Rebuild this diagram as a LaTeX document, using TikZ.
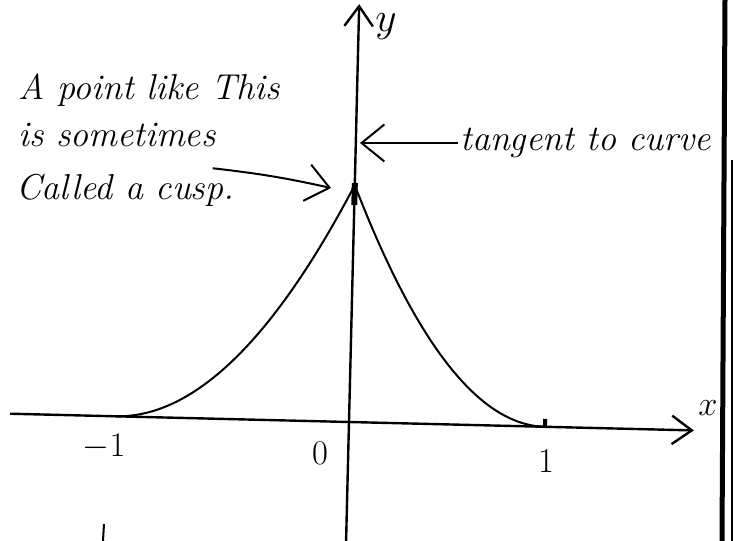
\documentclass[tikz,border=0pt]{standalone}
\usepackage{tikz}
\usetikzlibrary{arrows.meta,positioning}
\tikzset{
  ax/.style={-{Straight Barb[length=3.5mm,width=5mm]},line width=1.2pt},
  ar/.style={-{Straight Barb[length=4mm,width=6.5mm]},line width=1pt},
  hand/.style={font=\fontsize{18}{21}\selectfont\itshape,inner sep=1pt},
  num/.style={font=\fontsize{18}{21}\selectfont,inner sep=1pt}
}

\begin{document}
\begin{tikzpicture}[x=0.5pt,y=0.5pt]
\useasboundingbox (0,0) rectangle (734,541);
% axes, drawn a little tilted as in the sketch
\begin{scope}[rotate around={-1.4:(349,119)}]
\coordinate (o) at (349,119);
\coordinate (xl) at (10,119);
\coordinate (xr) at (694,119);
\coordinate (yb) at (349,-5);
\coordinate (yt) at (349,537);
\draw[ax] (xl) -- (xr);
\draw[ax] (yb) -- (yt);
% the curve, cusp on the y axis
\coordinate (cusp) at (349,356);
\draw[line width=1pt] plot[domain=0:1,samples=60] ({349+196*\x},{119+237*(1-\x)^2});
\draw[line width=1pt] plot[domain=0:1,samples=60] ({349-234*\x},{119+237*(1-\x)^2});
\draw[line width=3pt] (349,336) -- (349,358);
\draw[line width=2pt] (545,119) -- (545,127);
\end{scope}
\node[num] (xlab) at (708,133) {$x$};
\node[num,font=\fontsize{21}{24}\selectfont] (ylab) at (386,514) {$y$};
% tick labels
\node[num] (m1) at (104,94) {$-1$};
\node[num] (n0) at (320,88) {$0$};
\node[num] (p1) at (546,80) {$1$};
% notes
\node[hand,anchor=base west] (l1) at (16,441) {A point like This};
\node[hand,anchor=base west] (l2) at (16,394) {is sometimes};
\node[hand,anchor=base west] (l3) at (14,341) {Called a cusp.};
\coordinate (cuspin) at (331,353);
\draw[ar] ([xshift=-12pt,yshift=2pt]l3.north east) to[bend left=3] (cuspin);
\node[hand,anchor=west] (tan) at (458,398) {tangent to curve};
\coordinate (tp) at (360,398);
\draw[ar] (tan.west) -- (tp);
% right edge
\draw[line width=2.5pt] (725,541) -- (722,0);
\draw[line width=0.6pt] (732,381) -- (732,0);
\draw[line width=1pt] (103,0) -- (104,17);
\end{tikzpicture}
\end{document}
